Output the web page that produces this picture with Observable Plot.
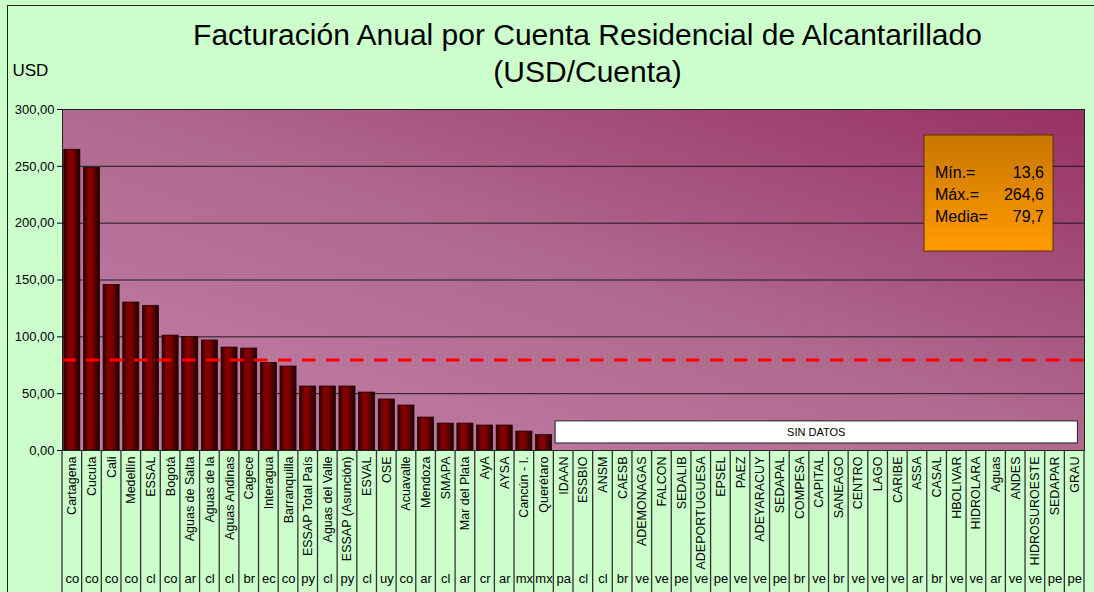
<!DOCTYPE html>
<html><head><meta charset="utf-8">
<script src="https://cdn.jsdelivr.net/npm/d3@7"></script>
<script src="https://cdn.jsdelivr.net/npm/@observablehq/plot@0.6"></script>
<style>
body{margin:0;background:#fff;}
#wrap{position:relative;width:1094px;height:592px;background:#ccffcc;overflow:hidden;font-family:"Liberation Sans",Arial,sans-serif;}
#wrap svg{position:absolute;left:0;top:0;}
#border{position:absolute;left:7px;top:5px;width:1200px;height:700px;border:1px solid #222;pointer-events:none;}
</style></head><body><div id="wrap"><div id="border"></div></div>
<script>
const title1 = "Facturación Anual por Cuenta Residencial de Alcantarillado";
const title2 = "(USD/Cuenta)";
const yUnit = "USD";
const names = ["Cartagena","Cucuta","Cali","Medellín","ESSAL","Bogotá","Aguas de Salta","Aguas de la","Aguas Andinas","Cagece","Interagua","Barranquilla","ESSAP Total País","Aguas del Valle","ESSAP (Asunción)","ESVAL","OSE","Acuavalle","Mendoza","SMAPA","Mar del Plata","AyA","AYSA","Cancún - I.","Querétaro","IDAAN","ESSBIO","ANSM","CAESB","ADEMONAGAS","FALCON","SEDALIB","ADEPORTUGUESA","EPSEL","PAEZ","ADEYARACUY","SEDAPAL","COMPESA","CAPITAL","SANEAGO","CENTRO","LAGO","CARIBE","ASSA","CASAL","HBOLIVAR","HIDROLARA","Aguas","ANDES","HIDROSUROESTE","SEDAPAR","GRAU"];
const codes = ["co","co","co","co","cl","co","ar","cl","cl","br","ec","co","py","cl","py","cl","uy","co","ar","cl","ar","cr","ar","mx","mx","pa","cl","cl","br","ve","ve","pe","ve","pe","ve","ve","pe","br","ve","br","ve","ve","ve","ar","br","ve","ve","ar","ve","ve","pe","pe"];
const values = [264.6,248.6,145.7,130.2,127.3,101.1,99.7,96.8,90.6,89.7,77.1,73.9,56.3,56.3,56.3,51.0,44.9,39.6,29.0,23.7,23.7,22.0,22.0,16.7,13.6,
  null,null,null,null,null,null,null,null,null,null,null,null,null,null,null,null,null,null,null,null,null,null,null,null,null,null,null];
const yTicks = [0,50,100,150,200,250,300];
const statLabels = ["Mín.=","Máx.=","Media="];
const statValues = [13.6,264.6,79.7];
const meanValue = 79.7;
const noDataLabel = "SIN DATOS";
const noDataRange = [6.2, 25.6];

const data = names.map((name,i)=>({name, code: codes[i], value: values[i]}));
const withData = data.filter(d=>d.value!=null);
const noData = data.filter(d=>d.value==null);
const fmt = v => v.toFixed(2).replace(".", ",");
const fmt1 = v => v.toFixed(1).replace(".", ",");
const FONT = "Liberation Sans, Arial, sans-serif";

function bandEdges(x){
  const bw = x.bandwidth(), st = x.step ? x.step() : bw;
  return names.map(n=>x(n)+bw/2-st/2).concat([x(names[names.length-1])+bw/2+st/2]);
}

// separators in the label area
const separators = (index, scales, values, dims) => {
  const x = scales.x;
  const g = d3.create("svg:g");
  const y0 = dims.height - dims.marginBottom, y1 = dims.height;
  for (const xe of bandEdges(x)) {
    g.append("line").attr("x1", xe).attr("x2", xe).attr("y1", y0).attr("y2", y1)
      .attr("stroke", "#333").attr("stroke-width", 1.3);
  }
  return g.node();
};

// "SIN DATOS" box spanning the categories without data
const sinDatos = (index, scales) => {
  const x = scales.x, y = scales.y;
  const bw = x.bandwidth();
  const xa = x(noData[0].name), xb = x(noData[noData.length-1].name) + bw*0.7;
  const ya = y(noDataRange[1]), yb = y(noDataRange[0]);
  const g = d3.create("svg:g");
  g.append("rect").attr("x", xa).attr("y", ya).attr("width", xb-xa).attr("height", yb-ya)
    .attr("fill", "#fff").attr("stroke", "#222").attr("stroke-width", 1);
  g.append("text").attr("x", (xa+xb)/2).attr("y", (ya+yb)/2).attr("dy", "0.35em")
    .attr("text-anchor", "middle").attr("font-size", 11).attr("font-family", FONT)
    .attr("fill", "#000").text(noDataLabel);
  return g.node();
};

// stats box at the top-right of the frame
const statsBox = (index, scales, values, dims) => {
  const right = dims.width - dims.marginRight - 31, top = dims.marginTop + 26;
  const w = 129, h = 116, left = right - w;
  const g = d3.create("svg:g");
  g.append("rect").attr("x", left).attr("y", top).attr("width", w).attr("height", h)
    .attr("fill", "url(#orangeGrad)").attr("stroke", "#5a3300").attr("stroke-width", 1);
  statLabels.forEach((lab, i) => {
    const yy = top + 43 + i*22;
    g.append("text").attr("x", left + 11).attr("y", yy).attr("font-size", 16)
      .attr("text-anchor", "start").attr("font-family", FONT).attr("fill", "#000").text(lab);
    g.append("text").attr("x", right - 9).attr("y", yy).attr("font-size", 16)
      .attr("text-anchor", "end").attr("font-family", FONT).attr("fill", "#000").text(fmt1(statValues[i]));
  });
  return g.node();
};

const plot = Plot.plot({
  width: 1094, height: 592,
  marginLeft: 62, marginRight: 10, marginTop: 109, marginBottom: 142,
  style: {background: "transparent", fontFamily: FONT, color: "#000", overflow: "visible"},
  x: {domain: names, paddingInner: 0.18, paddingOuter: 0.09, label: null},
  y: {domain: [0, 300], label: null},
  marks: [
    Plot.frame({fill: "url(#plotBg)", stroke: null}),
    Plot.gridY({ticks: yTicks, stroke: "#111", strokeOpacity: 0.9, strokeWidth: 1}),
    Plot.barY(withData, {x: "name", y: "value", fill: "url(#barGrad)", stroke: "#1a0000", strokeWidth: 0.7}),
    Plot.ruleY([meanValue], {stroke: "#ff0000", strokeWidth: 3, strokeDasharray: "13.5,10.5"}),
    sinDatos,
    Plot.frame({stroke: "#222", strokeWidth: 1}),
    Plot.axisY({ticks: yTicks, tickFormat: fmt, tickSize: 5, tickPadding: 3, fontSize: 13, stroke: "#000", label: null}),
    Plot.axisX({tickSize: 0, tickPadding: 6, tickRotate: -90, fontSize: 12.5, label: null}),
    Plot.axisX({tickSize: 0, tickPadding: 123, fontSize: 13, tickFormat: (d) => codes[names.indexOf(d)], label: null}),
    separators,
    statsBox,
    Plot.text([title1], {text: d=>d, frameAnchor: "top", lineAnchor: "middle", dx: 14, dy: -74, fontSize: 30, fill: "#000"}),
    Plot.text([title2], {text: d=>d, frameAnchor: "top", lineAnchor: "middle", dx: 14, dy: -37, fontSize: 30, fill: "#000"}),
    Plot.text([yUnit], {text: d=>d, frameAnchor: "top-left", lineAnchor: "middle", textAnchor: "start", dx: -50, dy: -39, fontSize: 17, fill: "#000"})
  ]
});

const svg = d3.select(plot);
const defs = svg.insert("defs", ":first-child");
const bg = defs.append("linearGradient").attr("id", "plotBg").attr("x1", 0).attr("y1", 1).attr("x2", 1).attr("y2", 0);
bg.append("stop").attr("offset", "0%").attr("stop-color", "#c280a6");
bg.append("stop").attr("offset", "50%").attr("stop-color", "#b06a90");
bg.append("stop").attr("offset", "100%").attr("stop-color", "#973163");
const bar = defs.append("linearGradient").attr("id", "barGrad").attr("x1", 0).attr("y1", 0).attr("x2", 1).attr("y2", 0);
[["0%","#260000"],["30%","#850000"],["55%","#7d0000"],["100%","#1c0000"]].forEach(([o,c])=>bar.append("stop").attr("offset", o).attr("stop-color", c));
const og = defs.append("linearGradient").attr("id", "orangeGrad").attr("x1", 0).attr("y1", 0).attr("x2", 0).attr("y2", 1);
og.append("stop").attr("offset", "0%").attr("stop-color", "#c87700");
og.append("stop").attr("offset", "100%").attr("stop-color", "#ff9a00");

document.getElementById("wrap").appendChild(plot);
</script></body></html>
